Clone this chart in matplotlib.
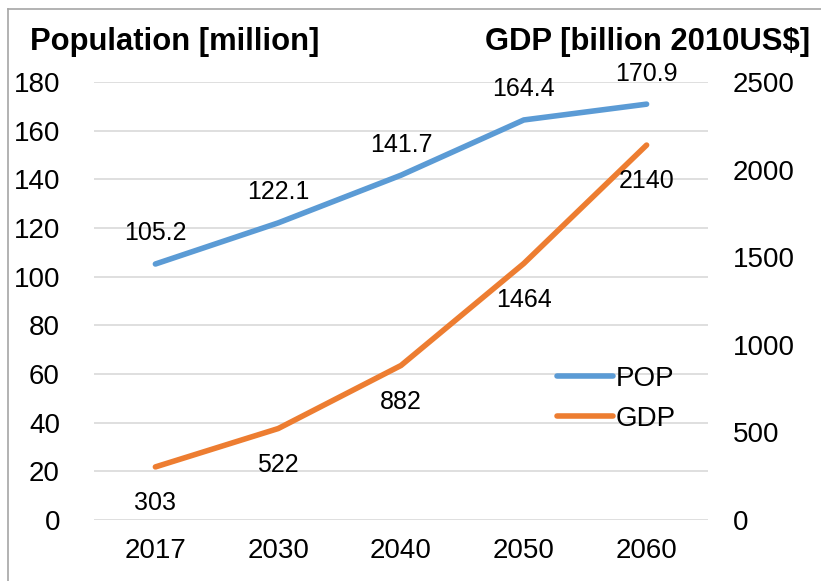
import matplotlib
matplotlib.use("Agg")
import matplotlib.pyplot as plt
from matplotlib.lines import Line2D

plt.rcParams['font.family'] = ['Liberation Sans', 'DejaVu Sans']

years = ["2017", "2030", "2040", "2050", "2060"]
pop = [105.2, 122.1, 141.7, 164.4, 170.9]
gdp = [303, 522, 882, 1464, 2140]
pop_ticks = [0, 20, 40, 60, 80, 100, 120, 140, 160, 180]
gdp_ticks = [0, 500, 1000, 1500, 2000, 2500]

blue = "#5B9BD5"
orange = "#ED7D31"

fig = plt.figure(figsize=(8.21, 5.81), dpi=100)
ax = fig.add_axes([94 / 821, 1 - 520 / 581, (708 - 94) / 821, (520 - 82) / 581])
ax2 = ax.twinx()

x = list(range(len(years)))
l1, = ax.plot(x, pop, color=blue, lw=4, solid_capstyle='round', label="POP")
l2, = ax2.plot(x, gdp, color=orange, lw=4, solid_capstyle='round', label="GDP")

ax.set_xlim(-0.5, len(years) - 0.5)
ax.set_ylim(0, 180)
ax2.set_ylim(0, 2500)
ax.set_yticks(pop_ticks)
ax2.set_yticks(gdp_ticks)
ax.set_xticks(x)
ax.set_xticklabels(years)

ax.grid(axis='y', color='#D9D9D9', lw=1.2)
ax.set_axisbelow(True)
for a in (ax, ax2):
    for s in a.spines.values():
        s.set_visible(False)
    a.tick_params(length=0, labelsize=20)
ax.tick_params(axis='y', pad=24.5)
ax2.tick_params(axis='y', pad=18)
ax.tick_params(axis='x', pad=13)

for xi, v in zip(x, pop):
    ax.annotate(f"{v:.1f}", (xi, v), xytext=(0, 22), textcoords='offset points',
                ha='center', va='center', fontsize=18)
for xi, v in zip(x, gdp):
    ax2.annotate(f"{v}", (xi, v), xytext=(0, -26), textcoords='offset points',
                 ha='center', va='center', fontsize=18)

ax2.legend(handles=[l1, l2], loc='upper left', bbox_to_anchor=(0.754, 0.352),
           frameon=False, fontsize=20, handlelength=2.0, handletextpad=0.1,
           labelspacing=0.5, borderaxespad=0, borderpad=0)

fig.text(30 / 821, 1 - 42 / 581, "Population [million]", fontsize=22.3,
         fontweight='bold', ha='left', va='center')
fig.text(810 / 821, 1 - 42 / 581, "GDP [billion 2010US$]", fontsize=22.3,
         fontweight='bold', ha='right', va='center')

# outer frame (top and left edges)
fig.add_artist(Line2D([8 / 821, 1], [1 - 9 / 581, 1 - 9 / 581], color='#A6A6A6', lw=1.2,
                      transform=fig.transFigure))
fig.add_artist(Line2D([8 / 821, 8 / 821], [0, 1 - 9 / 581], color='#A6A6A6', lw=1.2,
                      transform=fig.transFigure))

fig.savefig("out.png", dpi=100)
